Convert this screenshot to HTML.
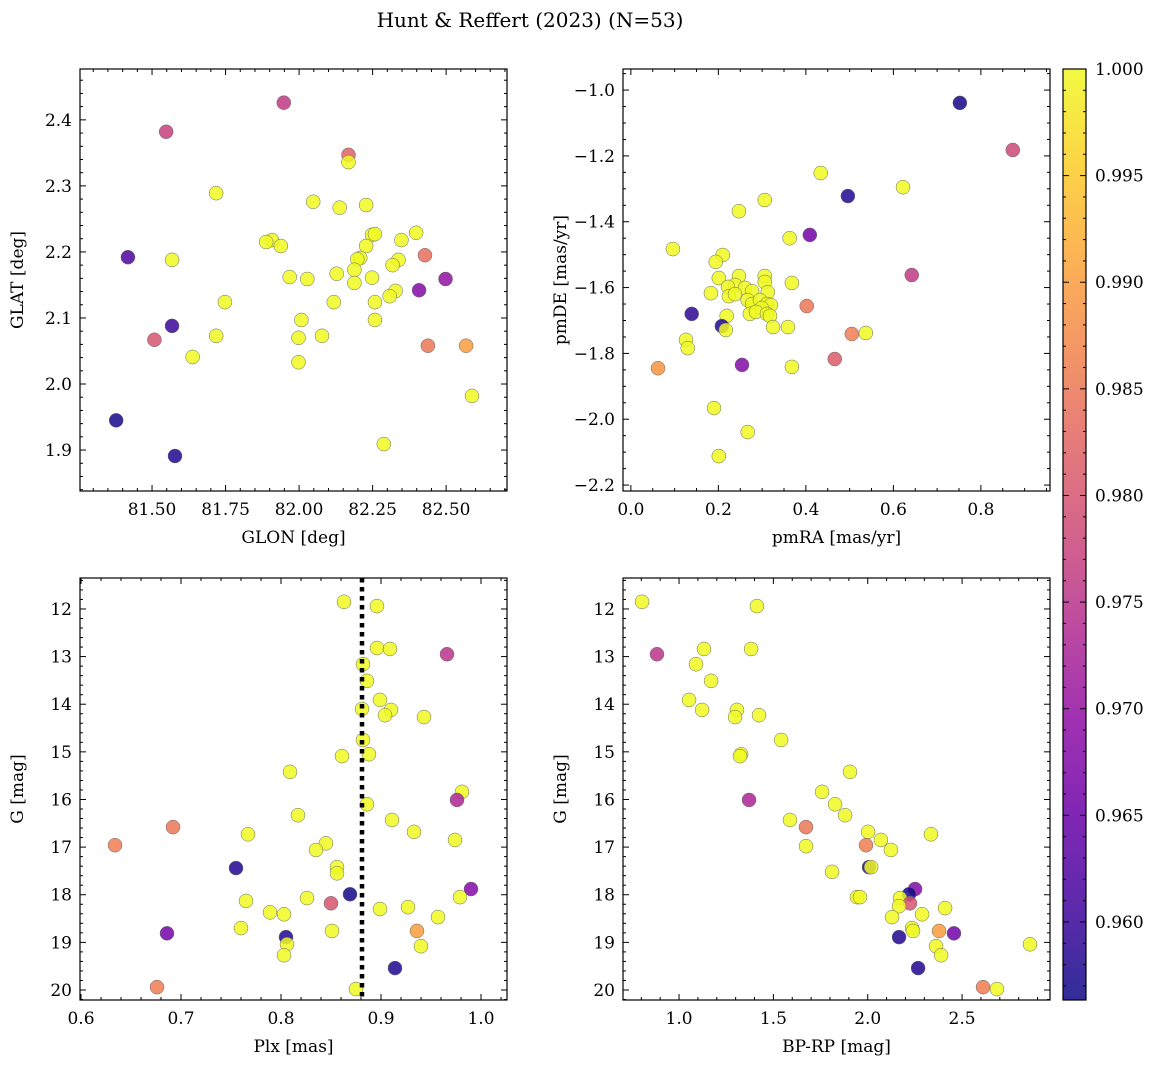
<!DOCTYPE html>
<html><head><meta charset="utf-8"><style>
body{margin:0;background:#fff}
svg{display:block}
text{font-family:"DejaVu Serif","Liberation Serif",serif;fill:#000}
</style></head><body>
<svg id="s" width="1161" height="1068"></svg>
<script>
// ---- Data ----
const p1Lon=[81.948,81.548,82.168,82.168,81.718,81.418,81.568,82.428,82.048,82.138,82.228,81.908,81.888,81.938,82.248,82.258,82.398,82.348,82.228,82.208,82.198,82.338,82.318,82.248,82.188,82.188,82.128,81.968,82.028,81.748,82.118,82.258,82.328,82.308,82.258,82.008,82.408,82.498,81.568,81.508,81.718,81.998,82.078,81.638,81.998,82.438,82.568,82.588,81.378,81.578,82.288];
const p1Lat=[2.426,2.382,2.347,2.336,2.289,2.192,2.188,2.195,2.276,2.267,2.271,2.218,2.215,2.209,2.226,2.227,2.229,2.218,2.209,2.191,2.189,2.188,2.180,2.161,2.173,2.153,2.167,2.162,2.159,2.124,2.124,2.124,2.141,2.133,2.097,2.097,2.142,2.159,2.088,2.067,2.073,2.070,2.073,2.041,2.033,2.058,2.058,1.982,1.945,1.891,1.909];
const p1Prob=[0.976,0.977,0.982,1,1,0.962,1,0.984,1,1,1,1,1,1,1,1,1,1,1,1,1,1,1,1,1,1,1,1,1,1,1,1,1,1,1,1,0.968,0.970,0.960,0.980,1,1,1,1,1,0.985,0.990,1,0.957,0.958,1];

const p2PmRA=[0.752,0.873,0.434,0.622,0.496,0.306,0.247,0.409,0.363,0.096,0.210,0.194,0.642,0.247,0.306,0.201,0.306,0.368,0.238,0.261,0.222,0.277,0.313,0.183,0.224,0.238,0.267,0.277,0.295,0.311,0.320,0.402,0.299,0.139,0.272,0.286,0.311,0.318,0.219,0.208,0.217,0.325,0.359,0.505,0.537,0.126,0.130,0.466,0.254,0.368,0.062,0.190,0.267,0.201];
const p2PmDE=[-1.039,-1.182,-1.252,-1.295,-1.322,-1.334,-1.368,-1.440,-1.450,-1.483,-1.501,-1.522,-1.562,-1.565,-1.565,-1.571,-1.583,-1.586,-1.592,-1.601,-1.598,-1.611,-1.614,-1.617,-1.626,-1.620,-1.638,-1.650,-1.638,-1.650,-1.653,-1.656,-1.662,-1.680,-1.680,-1.674,-1.680,-1.686,-1.686,-1.717,-1.729,-1.720,-1.720,-1.741,-1.738,-1.759,-1.784,-1.817,-1.835,-1.841,-1.845,-1.966,-2.039,-2.112];
const p2Prob=[0.957,0.978,1,1,0.958,1,1,0.966,1,1,1,1,0.976,1,1,1,1,1,1,1,1,1,1,1,1,1,1,1,1,1,1,0.985,1,0.959,1,1,1,1,1,0.958,1,1,1,0.986,1,1,1,0.981,0.968,1,0.989,1,1,1];

const p3Plx=[0.863,0.896,0.896,0.909,0.966,0.882,0.886,0.899,0.881,0.910,0.904,0.943,0.882,0.861,0.888,0.809,0.981,0.976,0.886,0.817,0.911,0.692,0.933,0.767,0.974,0.634,0.845,0.835,0.856,0.755,0.856,0.990,0.869,0.826,0.979,0.765,0.850,0.927,0.899,0.789,0.803,0.957,0.760,0.851,0.936,0.686,0.805,0.806,0.940,0.803,0.914,0.676,0.875];
const p3G=[11.85,11.94,12.82,12.84,12.95,13.16,13.51,13.91,14.10,14.12,14.23,14.27,14.75,15.09,15.05,15.42,15.84,16.01,16.10,16.33,16.43,16.58,16.68,16.73,16.85,16.96,16.92,17.06,17.42,17.44,17.55,17.88,17.99,18.07,18.05,18.13,18.18,18.26,18.30,18.37,18.41,18.47,18.70,18.76,18.76,18.81,18.89,19.04,19.08,19.27,19.54,19.94,19.98];
const p3Prob=[1,1,1,1,0.975,1,1,1,1,1,1,1,1,1,1,1,1,0.973,1,1,1,0.985,1,1,1,0.986,1,1,1,0.958,1,0.968,0.957,1,1,1,0.980,1,1,1,1,1,1,1,0.990,0.966,0.958,1,1,1,0.958,0.986,1];
const plxLine=0.881;

const p4BpRp=[0.804,1.413,1.132,1.382,0.883,1.090,1.170,1.053,1.122,1.307,1.297,1.424,1.329,1.323,1.541,1.906,1.758,1.371,1.827,1.880,1.588,1.673,2.002,2.335,2.070,1.991,1.673,2.123,2.007,2.018,1.811,2.251,2.219,2.171,1.943,1.959,2.224,2.166,2.410,2.288,2.129,2.235,2.378,2.457,2.166,2.240,2.362,2.860,2.389,2.267,2.611,2.685];
const p4G=[11.85,11.94,12.84,12.84,12.95,13.16,13.51,13.91,14.12,14.12,14.27,14.23,15.05,15.09,14.75,15.42,15.84,16.01,16.10,16.33,16.43,16.58,16.68,16.73,16.85,16.96,16.98,17.06,17.42,17.42,17.52,17.88,17.99,18.07,18.05,18.05,18.18,18.24,18.28,18.41,18.47,18.70,18.76,18.81,18.89,18.76,19.08,19.04,19.27,19.54,19.94,19.98];
const p4Prob=[1,1,1,1,0.975,1,1,1,1,1,1,1,1,1,1,1,1,0.973,1,1,1,0.985,1,1,1,0.986,1,1,0.958,1,1,0.968,0.957,1,1,1,0.980,1,1,1,1,1,0.990,0.966,0.958,1,1,1,1,0.958,0.986,1];

const cMin=0.95634,cMax=1.0;
const cbTicks=[0.960,0.965,0.970,0.975,0.980,0.985,0.990,0.995,1.000];

// ---- Helpers ----
const NS="http://www.w3.org/2000/svg";
const svg=document.getElementById('s');
function el(tag,attrs,parent){const e=document.createElementNS(NS,tag);for(const k in attrs)e.setAttribute(k,attrs[k]);(parent||svg).appendChild(e);return e;}
const stops=[[13,8,135],[65,4,157],[106,0,168],[143,13,164],[177,42,144],[204,71,120],[225,100,98],[242,132,75],[252,166,54],[252,206,37],[240,249,33]];
function plasma(t){t=Math.max(0,Math.min(1,t));const f=t*10,i=Math.min(9,Math.floor(f)),r=f-i;const a=stops[i],b=stops[i+1];return `rgb(${a.map((v,k)=>Math.round(v+(b[k]-v)*r)).join(',')})`;}
function fmt(v,d){return v.toFixed(d).replace('-','−');}

function panel(name,box,xd,yd,xMaj,xMin,yMaj,yMin,xd2,yd2,xlab,ylab,xs,ys,ps){
  const [L,T,R,B]=box;
  const X=v=>L+(v-xd[0])/(xd[1]-xd[0])*(R-L);
  const Y=v=>T+(v-yd[0])/(yd[1]-yd[0])*(B-T);
  const g=el('g',{});
  
  
  const lo=Math.min(xd[0],xd[1]),hi=Math.max(xd[0],xd[1]);
  for(let v=Math.ceil(lo/xMin-1e-6)*xMin;v<=hi+1e-9;v+=xMin){const px=X(v);const major=Math.abs(v/xMaj-Math.round(v/xMaj))<1e-6;const l=major?6:3;
    el('line',{x1:px,x2:px,y1:B,y2:B-l,stroke:'#000','stroke-width':1},g);el('line',{x1:px,x2:px,y1:T,y2:T+l,stroke:'#000','stroke-width':1},g);
    if(major){const t=el('text',{x:px,y:B+24,'text-anchor':'middle','font-size':17},g);t.textContent=fmt(v,xd2);}}
  const ylo=Math.min(yd[0],yd[1]),yhi=Math.max(yd[0],yd[1]);
  for(let v=Math.ceil(ylo/yMin-1e-6)*yMin;v<=yhi+1e-9;v+=yMin){const py=Y(v);const major=Math.abs(v/yMaj-Math.round(v/yMaj))<1e-6;const l=major?6:3;
    el('line',{x1:L,x2:L+l,y1:py,y2:py,stroke:'#000','stroke-width':1},g);el('line',{x1:R,x2:R-l,y1:py,y2:py,stroke:'#000','stroke-width':1},g);
    if(major){const t=el('text',{x:L-8,y:py+6,'text-anchor':'end','font-size':17},g);t.textContent=fmt(v,yd2);}}
  const xl=el('text',{x:(L+R)/2,y:B+52,'text-anchor':'middle','font-size':17},g);xl.textContent=xlab;
  
  const yl=el('text',{x:0,y:0,'text-anchor':'middle','font-size':17,transform:`translate(${L-57},${(T+B)/2}) rotate(-90)`},g);yl.textContent=ylab;
  
  for(let i=0;i<xs.length;i++){
    const c=el('circle',{cx:X(xs[i]),cy:Y(ys[i]),r:7,fill:plasma((ps[i]-cMin)/(cMax-cMin)),'fill-opacity':0.85,stroke:'#666','stroke-width':0.5},g);
    
    
  }
  el('rect',{x:L,y:T,width:R-L,height:B-T,fill:'none',stroke:'#000','stroke-width':1.2},g);
  return {X,Y,g};
}

const t=el('text',{x:530,y:27,'text-anchor':'middle','font-size':20});t.textContent='Hunt & Reffert (2023) (N=53)';


panel('position-panel',[80,69,507,491],[81.255,82.707],[2.477,1.838],0.25,0.05,0.1,0.02,2,1,'GLON [deg]','GLAT [deg]',p1Lon,p1Lat,p1Prob);
panel('proper-motion-panel',[623,69,1050,491],[-0.018,0.958],[-0.936,-2.218],0.2,0.05,0.2,0.05,1,1,'pmRA [mas/yr]','pmDE [mas/yr]',p2PmRA,p2PmDE,p2Prob);
const p3=panel('parallax-panel',[80,578,507,1000],[0.599,1.026],[11.35,20.21],0.1,0.02,1,0.2,1,0,'Plx [mas]','G [mag]',p3Plx,p3G,p3Prob);
const vl=el('line',{x1:p3.X(plxLine),x2:p3.X(plxLine),y1:578,y2:1000,stroke:'#000','stroke-width':4.5,'stroke-dasharray':'4.5 4.5'});

panel('cmd-panel',[623,578,1050,1000],[0.703,2.966],[11.35,20.21],0.5,0.1,1,0.2,1,0,'BP-RP [mag]','G [mag]',p4BpRp,p4G,p4Prob);

// colorbar
const cb=el('g',{});
const cbL=1063,cbR=1086,cbT=69,cbB=1000;
const defs=el('defs',{},cb);const lg=el('linearGradient',{id:'cg',x1:0,y1:1,x2:0,y2:0},defs);
for(let i=0;i<=20;i++)el('stop',{offset:i/20,'stop-color':plasma(i/20),'stop-opacity':0.85},lg);
el('rect',{x:cbL,y:cbT,width:cbR-cbL,height:cbB-cbT,fill:'url(#cg)'},cb);
const CY=v=>cbB-(v-cMin)/(cMax-cMin)*(cbB-cbT);
for(let k=957;k<=1000;k++){const v=k/1000,py=CY(v),major=k%5===0,l=major?6:3;
  el('line',{x1:cbR,x2:cbR-l,y1:py,y2:py,stroke:'#000'},cb);el('line',{x1:cbL,x2:cbL+l,y1:py,y2:py,stroke:'#000'},cb);}
cbTicks.forEach(v=>{const tt=el('text',{x:cbR+9,y:CY(v)+6,'font-size':17},cb);tt.textContent=v.toFixed(3);
  });
el('rect',{x:cbL,y:cbT,width:cbR-cbL,height:cbB-cbT,fill:'none',stroke:'#000','stroke-width':1.2},cb);
</script>
</body></html>
